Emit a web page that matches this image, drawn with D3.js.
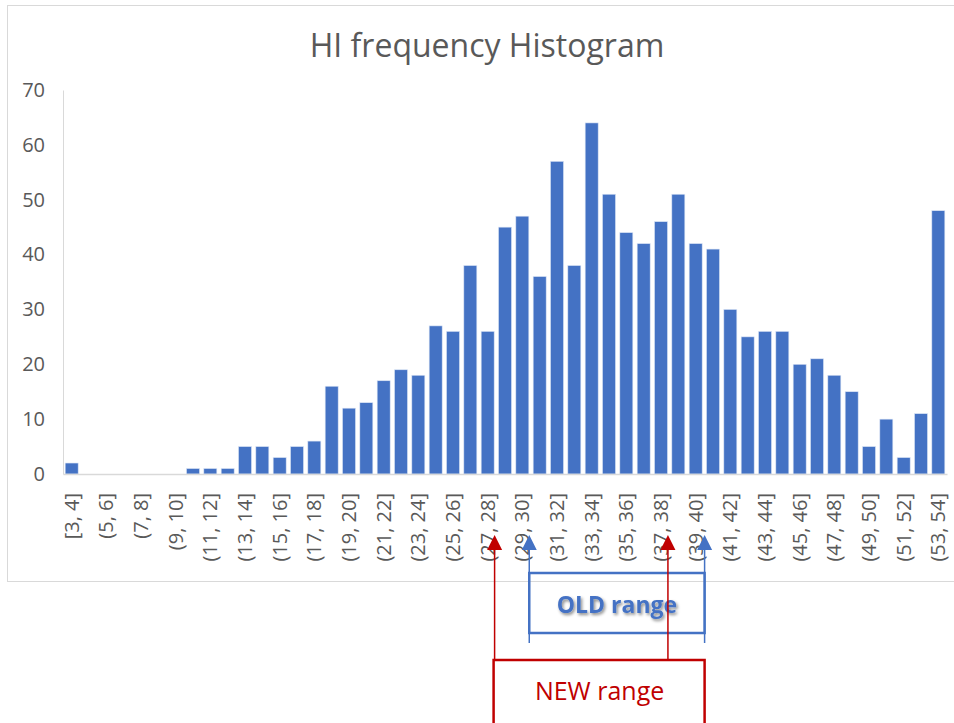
<!DOCTYPE html>
<html lang="en">

<head>
    <meta charset="UTF-8">
    <title>HI frequency Histogram</title>
    <script type="text/javascript" src="https://cdn.jsdelivr.net/npm/d3@7"></script>
    <style>
        body { margin: 0; background: #fff; }
        text { font-family: "Open Sans", "Noto Sans", sans-serif; }
    </style>
</head>

<body>
    <svg id="hist"></svg>
</body>

<script>
    // bins of HI, every other one gets a label on the axis
    var bins = ["[3, 4]"];
    for (var b = 4; b < 54; b++) bins.push("(" + b + ", " + (b + 1) + "]");

    var counts = [2, 0, 0, 0, 0, 0, 0, 1, 1, 1,
        5, 5, 3, 5, 6, 16, 12, 13, 17, 19,
        18, 27, 26, 38, 26, 45, 47, 36, 57, 38,
        64, 51, 44, 42, 46, 51, 42, 41, 30, 25,
        26, 26, 20, 21, 18, 15, 5, 10, 3, 11, 48];

    var yTicks = [0, 10, 20, 30, 40, 50, 60, 70];

    // annotation ranges (bin labels where the arrows point)
    var oldRange = ["(29, 30]", "(39, 40]"];
    var newRange = ["(27, 28]", "(37, 38]"];

    var width = 954, height = 723;
    var margin = { left: 63, right: 7, top: 90, bottom: 249 };

    var svg = d3.select("#hist")
        .attr("width", width)
        .attr("height", height);

    // chart frame
    svg.append("rect")
        .attr("x", 7.5).attr("y", 5.5)
        .attr("width", 960).attr("height", 576)
        .attr("fill", "none")
        .attr("stroke", "#d9d9d9");

    var x = d3.scaleBand()
        .domain(bins)
        .range([margin.left, width - margin.right])
        .paddingInner(0.25)
        .paddingOuter(0.125);

    var y = d3.scaleLinear()
        .domain([0, 70])
        .range([height - margin.bottom, margin.top]);

    // title
    svg.append("text")
        .attr("x", 487).attr("y", 57)
        .attr("text-anchor", "middle")
        .style("font-size", "32px")
        .style("fill", "#595959")
        .text("HI frequency Histogram");

    // y axis
    var yAxis = svg.append("g")
        .attr("transform", "translate(" + margin.left + ",0)")
        .call(d3.axisLeft(y).tickValues(yTicks).tickSize(0).tickPadding(18));
    yAxis.select(".domain").attr("stroke", "#d9d9d9");
    yAxis.selectAll("text")
        .style("font-size", "20px")
        .style("fill", "#595959");

    // bars
    svg.selectAll(".bar")
        .data(counts)
        .enter()
        .append("rect")
        .attr("class", "bar")
        .attr("x", (d, i) => x(bins[i]))
        .attr("y", d => y(d))
        .attr("width", x.bandwidth())
        .attr("height", d => y(0) - y(d))
        .attr("fill", "#4472c4")
        .attr("stroke", "#dbe4f5")
        .attr("stroke-width", 0.6);

    // x axis
    var xAxis = svg.append("g")
        .attr("transform", "translate(0," + y(0) + ")")
        .call(d3.axisBottom(x)
            .tickValues(bins.filter((d, i) => i % 2 == 0))
            .tickSize(0));
    xAxis.select(".domain").attr("stroke", "#d9d9d9").attr("stroke-width", 1.5);
    xAxis.selectAll("text")
        .attr("transform", "rotate(-90)")
        .attr("x", -19)
        .attr("y", 0)
        .attr("dy", "0.35em")
        .attr("text-anchor", "end")
        .style("font-size", "20px")
        .style("fill", "#595959");

    // annotations
    var step = x.step();
    function ax(label) { return x(label) + x.bandwidth() / 2 + step * 0.4; }

    function arrow(xp, y1, y2, color) {
        svg.append("line")
            .attr("x1", xp).attr("x2", xp)
            .attr("y1", y1).attr("y2", y2 + 14)
            .attr("stroke", color).attr("stroke-width", 1.5);
        svg.append("path")
            .attr("d", "M" + xp + "," + y2 + " l-7.5,15 l15,0 z")
            .attr("fill", color);
    }

    var blue = "#4472c4", red = "#c00000";
    var axisBase = 535;

    // OLD range
    var o1 = ax(oldRange[0]), o2 = ax(oldRange[1]) + 2;
    arrow(o1, 643, axisBase, blue);
    arrow(o2, 643, axisBase, blue);
    svg.append("rect")
        .attr("x", o1).attr("y", 573)
        .attr("width", o2 - o1).attr("height", 60)
        .attr("fill", "none")
        .attr("stroke", blue).attr("stroke-width", 2.5);

    var defs = svg.append("defs");
    var f = defs.append("filter").attr("id", "shadow")
        .attr("x", "-20%").attr("y", "-20%").attr("width", "140%").attr("height", "160%");
    f.append("feDropShadow")
        .attr("dx", 1.5).attr("dy", 2).attr("stdDeviation", 1.5)
        .attr("flood-color", "#000").attr("flood-opacity", 0.45);

    svg.append("text")
        .attr("x", (o1 + o2) / 2).attr("y", 613)
        .attr("text-anchor", "middle")
        .attr("filter", "url(#shadow)")
        .style("font-size", "23px")
        .style("font-weight", "bold")
        .style("fill", blue)
        .text("OLD range");

    // NEW range
    var n1 = ax(newRange[0]), n2 = ax(newRange[1]);
    arrow(n1, 660, axisBase, red);
    arrow(n2, 660, axisBase, red);
    svg.append("rect")
        .attr("x", n1 - 1).attr("y", 660)
        .attr("width", o2 - n1 + 1).attr("height", 100)
        .attr("fill", "none")
        .attr("stroke", red).attr("stroke-width", 2.5);

    svg.append("text")
        .attr("x", (n1 + o2) / 2).attr("y", 700)
        .attr("text-anchor", "middle")
        .style("font-size", "25px")
        .style("fill", red)
        .text("NEW range");
</script>

</html>
